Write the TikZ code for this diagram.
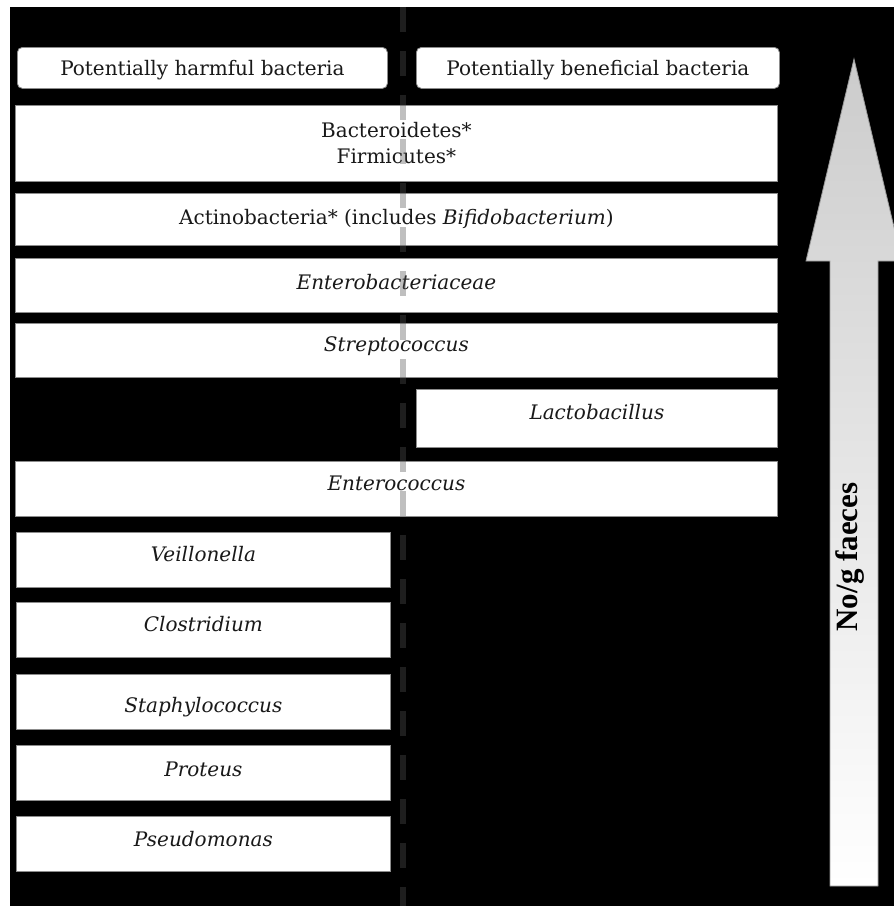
\documentclass[tikz,border=0pt]{standalone}
\usepackage{fontspec}
\setmainfont{DejaVu Serif}
\newfontfamily\lblfont{Liberation Serif}
\newcommand{\liftt}[2]{\raisebox{#1}[\height][\depth]{#2}}
\begin{document}
\begin{tikzpicture}[x=1pt,y=-1pt,
  box/.style={draw=black!45, fill=white, line width=0.8pt, inner sep=0pt, align=center,
    anchor=north west, text=black!90, font=\fontsize{20}{26}\selectfont},
  hdr/.style={box, rounded corners=5pt},
  dashline/.style={draw=black!68, opacity=0.37, line width=6pt, dash pattern=on 25pt off 19pt},
  arrowshape/.style={top color=black!20, bottom color=white, draw=black!40, line width=0.8pt}]
\useasboundingbox (0,0) rectangle (894,906);
\fill[white] (0,0) rectangle (894,906);
\fill[black] (10,7) rectangle (894,906);
% headers
\node[hdr, minimum width=370pt, minimum height=41pt] (harm) at (17,47) {\liftt{-2pt}{Potentially harmful bacteria}};
\node[hdr, minimum width=363pt, minimum height=41pt] (bene) at (416,47) {\liftt{-2pt}{Potentially beneficial bacteria}};
% wide rows
\node[box, minimum width=762pt, minimum height=76pt] (bact) at (15,105) {Bacteroidetes*\\Firmicutes*};
\node[box, minimum width=762pt, minimum height=52pt] (actino) at (15,193) {Actinobacteria* (includes \textit{Bifidobacterium})};
\node[box, minimum width=762pt, minimum height=54pt] (entb) at (15,258) {\liftt{3pt}{\textit{Enterobacteriaceae}}};
\node[box, minimum width=762pt, minimum height=54pt] (strep) at (15,323) {\liftt{4pt}{\textit{Streptococcus}}};
\node[box, minimum width=361pt, minimum height=58pt] (lacto) at (416,389) {\liftt{6pt}{\textit{Lactobacillus}}};
\node[box, minimum width=762pt, minimum height=55pt] (entc) at (15,461) {\liftt{6pt}{\textit{Enterococcus}}};
% harmful only
\node[box, minimum width=374pt, minimum height=55pt] (veil) at (16,532) {\liftt{6pt}{\textit{Veillonella}}};
\node[box, minimum width=374pt, minimum height=55pt] (clos) at (16,602) {\liftt{6pt}{\textit{Clostridium}}};
\node[box, minimum width=374pt, minimum height=55pt] (staph) at (16,674) {\liftt{-5pt}{\textit{Staphylococcus}}};
\node[box, minimum width=374pt, minimum height=55pt] (prot) at (16,745) {\liftt{4pt}{\textit{Proteus}}};
\node[box, minimum width=374pt, minimum height=55pt] (pseu) at (16,816) {\liftt{5pt}{\textit{Pseudomonas}}};
% dashed divider
\coordinate (dtop) at (403,7);
\coordinate (dbot) at (403,906);
\draw[dashline] (dtop) -- (dbot);
% arrow
\shade[arrowshape] (830,886) -- (830,261) -- (806,261) -- (854,59) -- (902,261) -- (878,261) -- (878,886) -- cycle;
\node[rotate=90, font=\lblfont\bfseries\fontsize{31}{31}\selectfont] (lbl) at (850,557) {No/g faeces};
\end{tikzpicture}
\end{document}
